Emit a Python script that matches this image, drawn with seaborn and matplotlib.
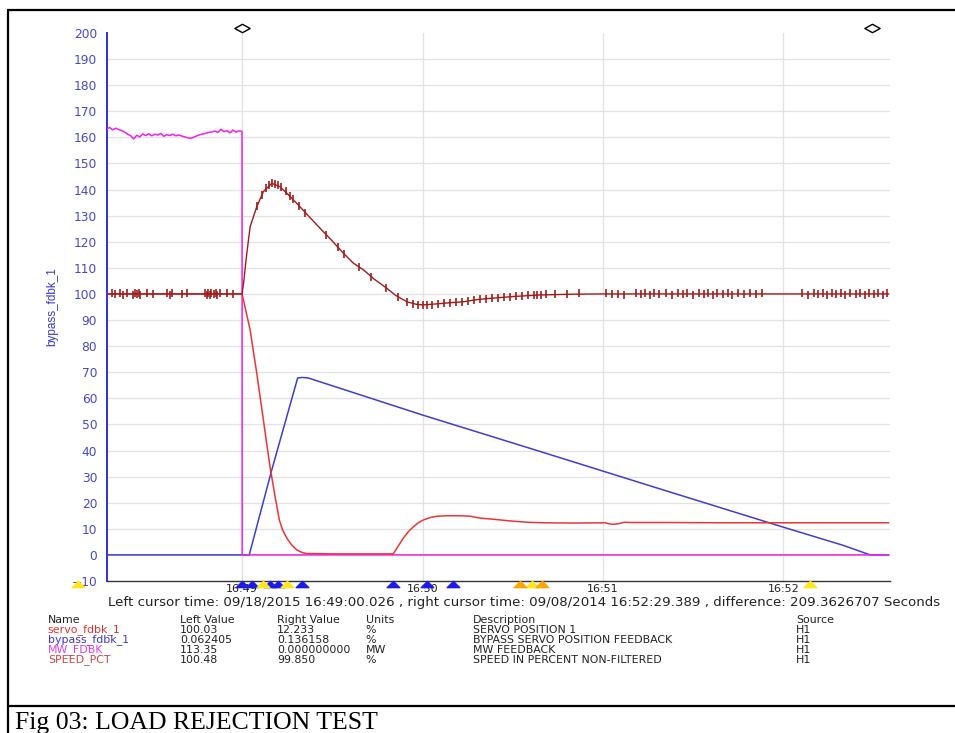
import seaborn as sns
import matplotlib.pyplot as plt
import matplotlib.ticker as mticker
import matplotlib.transforms as mtransforms
from matplotlib.lines import Line2D
from matplotlib.path import Path
import pandas as pd
import numpy as np

# time in seconds relative to 16:49:00
# MW_FDBK (magenta)
mwTime = [-45, -44, -43, -42, -41, -40, -39, -38, -37, -36, -35, -34, -33, -32, -31, -30,
          -29, -28, -27, -26, -25, -24, -23, -22, -21, -20, -19, -18, -17, -16, -15, -14,
          -13, -12, -11, -10, -9, -8, -7, -6, -5, -4, -3, -2, -1, 0, 0.05, 215]
mwValue = [163.2, 163.8, 162.9, 163.5, 163.0, 162.6, 162.0, 161.2, 160.6, 159.4, 160.8, 160.2,
           161.3, 160.7, 161.4, 160.6, 161.2, 160.9, 161.5, 160.4, 161.0, 160.7, 161.2, 160.6,
           160.9, 160.5, 160.2, 159.8, 159.6, 160.1, 160.6, 161.0, 161.3, 161.6, 161.9, 162.1,
           162.4, 161.9, 163.1, 162.2, 162.6, 161.7, 162.8, 162.0, 162.5, 162.3, 0.0, 0.0]

# bypass_fdbk_1 (blue)
bypassTime = [-45, 2.4, 9.9, 18.5, 20, 22, 60, 100, 140, 180, 200, 208.8, 215]
bypassValue = [0, 0, 32.6, 67.8, 68.0, 67.8, 53.6, 39.3, 24.9, 10.6, 3.6, 0, 0]

# servo_fdbk_1 (red)
servoTime = [-45, 0, 1, 2.7, 4.9, 7.1, 9.3, 11, 12.4, 13.5, 14.9, 16.5, 18.2, 20, 21.5, 30, 40,
             50.3, 52, 53.6, 55.3, 57, 58.6, 60.3, 62.5, 64.8, 68, 72.5, 76, 79.1, 84, 90.2,
             95, 100.1, 110, 120.7, 123, 125, 127, 129.5, 140, 160, 180, 200, 215]
servoValue = [100, 100, 95, 86.2, 69.6, 51.7, 33.8, 22.3, 13.4, 9.5, 6.4, 3.8, 1.9, 0.9, 0.5,
              0.4, 0.4, 0.4, 3.5, 6.4, 8.9, 10.8, 12.3, 13.4, 14.3, 14.8, 15.0, 15.0, 14.8,
              14.1, 13.6, 12.9, 12.5, 12.3, 12.2, 12.3, 11.7, 11.9, 12.5, 12.4, 12.4, 12.3,
              12.3, 12.3, 12.3]

# SPEED_PCT trend (dark red)
speedTime = [-45, 0, 0.5, 1.6, 2.7, 4.9, 7.1, 9.9, 12.6, 15, 18.2, 22, 25.9, 30, 33.7, 37,
             40.4, 44, 48.1, 51, 54.8, 58, 60.3, 64.8, 70, 73.6, 78, 82.4, 90, 99, 110, 120, 215]
speedValue = [100, 100, 104, 115.7, 125.8, 133.4, 139.2, 142.4, 141.1, 138.5, 134.7, 130,
              125.2, 120.3, 115.6, 111.8, 109.2, 105.6, 102.2, 99.5, 97.0, 96.0, 95.8, 96.2,
              96.7, 97.0, 97.8, 98.3, 99.0, 99.6, 99.9, 100, 100]

# SPEED_PCT raw samples shown as ticks
speedTickTime = [-43.2, -42.2, -40.6, -39.5, -38.2, -36.2, -35.5, -34.9, -34.2, -33.9, -31.6,
                 -29.6, -24.9, -23.9, -23.3, -19.9, -18.3, -12.3, -11.6, -11.3, -10.6, -10.3,
                 -9.3, -8.8, -8.3, -7.3, -5, -3,
                 5, 6.5, 8, 9, 10, 11, 12, 13, 14.5, 16, 17, 19, 21, 28, 32, 34, 39, 43, 48,
                 52, 55, 57, 58.5, 60, 61.5, 63, 65, 67, 69, 71, 73, 75, 77, 79, 81, 83, 85,
                 87, 89, 91, 93, 95, 97, 98, 99.5, 101, 104, 108, 112,
                 121, 123, 125, 127, 131, 132.5, 134, 135.5, 137, 138.5, 141, 143, 145, 146.5,
                 148, 150, 152, 153.5, 155, 156.5, 158, 160, 161.5, 163, 165, 167, 169, 171,
                 173, 186, 188, 190, 191.5, 193, 194.5, 196, 197.5, 199, 200.5, 202, 204,
                 205.5, 207, 208.5, 210, 211.5, 213, 214.5]
speedTickValue = [100.3, 99.8, 100.2, 99.7, 100.4, 99.6, 100.3, 99.8, 100.5, 99.7, 100.2,
                  99.9, 100.3, 99.7, 100.2, 99.9, 100.2, 100.4, 99.6, 100.3, 99.7, 100.5,
                  99.8, 100.3, 99.7, 100.4, 100.2, 99.9,
                  133.6, 137.8, 140.5, 141.7, 142.6, 142.2, 141.6, 140.8, 139.3, 137.6, 136.2,
                  133.6, 131.1, 122.7, 117.9, 115.2, 110.3, 106.6, 102.3, 98.9, 96.9, 96.2,
                  95.8, 95.7, 95.6, 95.9, 96.2, 96.4, 96.5, 96.8, 97.0, 97.3, 97.6, 97.9, 98.1,
                  98.4, 98.6, 98.8, 98.9, 99.2, 99.3, 99.5, 99.5, 99.7, 99.6, 100.0, 99.8,
                  99.9, 100.2,
                  100.2, 99.8, 100.1, 99.7, 100.3, 99.8, 100.4, 99.7, 100.2, 99.9, 100.3,
                  99.6, 100.2, 99.8, 100.4, 99.7, 100.3, 99.9, 100.2, 99.7, 100.4, 99.8,
                  100.3, 99.7, 100.2, 99.9, 100.3, 99.8, 100.2, 100.3, 99.7, 100.4, 99.8,
                  100.2, 99.6, 100.3, 99.8, 100.4, 99.7, 100.2, 99.9, 100.3, 99.7, 100.4,
                  99.8, 100.2, 99.7, 100.3]

# event markers along the time axis
blueEvents = [0, 3.2, 9.3, 12, 20, 50.2, 61.5, 70.1]
yellowEvents = [-54.5, 7, 15, 96.3, 188.8]
orangeEvents = [92.4, 99.6]

cursorTimes = [0.026, 209.389]
minuteTicks = [0, 60, 120, 180]
minuteLabels = ['16:49', '16:50', '16:51', '16:52']

cursorText = ('Left cursor time: 09/18/2015 16:49:00.026 , right cursor time: '
              '09/08/2014 16:52:29.389 , difference: 209.3626707 Seconds')
tableHeader = ['Name', 'Left Value', 'Right Value', 'Units', 'Description', 'Source']
tagNames = ['servo_fdbk_1', 'bypass_fdbk_1', 'MW_FDBK', 'SPEED_PCT']
leftValues = ['100.03', '0.062405', '113.35', '100.48']
rightValues = ['12.233', '0.136158', '0.000000000', '99.850']
units = ['%', '%', 'MW', '%']
descriptions = ['SERVO POSITION 1', 'BYPASS SERVO POSITION FEEDBACK', 'MW FEEDBACK',
                'SPEED IN PERCENT NON-FILTERED']
sources = ['H1', 'H1', 'H1', 'H1']

servoColor = '#ee3535'
bypassColor = '#3d3dd6'
mwColor = '#f020f0'
speedColor = '#a01c1c'
tagColors = ['#e83030', '#3a3ad0', '#e040e0', '#c84545']

sns.set_style('white')
plt.rcParams['font.family'] = ['Liberation Sans', 'DejaVu Sans']

fig = plt.figure(figsize=(9.55, 7.33), dpi=100)
ax = fig.add_axes([0.1120, 0.2074, 0.8199, 0.7476])

sns.lineplot(x=bypassTime, y=bypassValue, ax=ax, color=bypassColor, lw=1.1,
             sort=False, estimator=None, zorder=3)
sns.lineplot(x=mwTime, y=mwValue, ax=ax, color=mwColor, lw=1.1,
             sort=False, estimator=None, zorder=4)
sns.lineplot(x=servoTime, y=servoValue, ax=ax, color=servoColor, lw=1.1,
             sort=False, estimator=None, zorder=5)
sns.lineplot(x=speedTime, y=speedValue, ax=ax, color=speedColor, lw=1.0,
             sort=False, estimator=None, zorder=6)
ax.plot(speedTickTime, speedTickValue, ls='none', marker='|', ms=6, mew=1.2,
        color=speedColor, zorder=6)

ax.set_xlim(-44.9, 215.4)
ax.set_ylim(-10, 200)

ax.set_yticks(np.arange(-10, 201, 10))
ax.yaxis.set_minor_locator(mticker.MultipleLocator(2))
ax.set_xticks(minuteTicks)
ax.set_xticklabels(minuteLabels)
ax.xaxis.set_minor_locator(mticker.MultipleLocator(10))

ax.grid(True, which='major', color='#e2e2e2', lw=0.9, zorder=0)
ax.get_ygridlines()[-1].set_visible(False)
ax.get_ygridlines()[0].set_visible(False)
ax.set_axisbelow(True)

for side in ['top', 'right']:
    ax.spines[side].set_visible(False)
ax.spines['left'].set_color('#2f2fe0')
ax.spines['left'].set_linewidth(1.4)
ax.spines['bottom'].set_color('#333333')
ax.spines['bottom'].set_linewidth(1.0)

ax.tick_params(axis='y', which='major', direction='out', length=5, width=1.2,
               color='#2f2fe0', labelcolor='#4848c8', labelsize=8.8, pad=2)
ax.tick_params(axis='y', which='minor', direction='out', length=2.5, width=1,
               color='#2f2fe0')
ax.tick_params(axis='x', which='both', direction='out', length=3, width=1,
               color='#333333', labelcolor='#222222', labelsize=8, pad=-1)
for lbl in ax.get_xticklabels() + ax.get_yticklabels():
    lbl.set_family(['DejaVu Sans'])

ax.set_ylabel('bypass_fdbk_1', color='#3838c8', fontsize=8.5)
ax.yaxis.set_label_coords(-0.062, 0.5)
ax.set_xlabel('')

# event triangles under the time axis
trans = mtransforms.blended_transform_factory(ax.transData, ax.transAxes)
triangle = Path([(-1, -0.5), (0, 0.5), (1, -0.5), (-1, -0.5)],
                [Path.MOVETO, Path.LINETO, Path.LINETO, Path.CLOSEPOLY])
for events, col in [(blueEvents, '#1c1ce6'), (yellowEvents, '#ffe81a'), (orangeEvents, '#ffa500')]:
    ax.plot(events, [-0.005] * len(events), ls='none', marker=triangle, ms=9,
            color=col, mec=col, transform=trans, clip_on=False, zorder=7)

# cursor diamonds above the plot
diamond = Path([(-1, 0), (0, 0.55), (1, 0), (0, -0.55), (-1, 0)],
               [Path.MOVETO, Path.LINETO, Path.LINETO, Path.LINETO, Path.CLOSEPOLY])
ax.plot(cursorTimes, [1.009] * len(cursorTimes), ls='none', marker=diamond, ms=11,
        mfc='white', mec='black', mew=1, transform=trans, clip_on=False, zorder=7)

# cursor info line
fig.text(0.5487, 0.1775, cursorText, ha='center', va='center', fontsize=9.6,
         family=['DejaVu Sans'], color='#222222')

# value table
colX = [0.05, 0.1885, 0.29, 0.383, 0.4953, 0.8335]
rowY = [0.1542, 0.1405, 0.1269, 0.1132, 0.0996]
for x, h in zip(colX, tableHeader):
    fig.text(x, rowY[0], h, ha='left', va='center', fontsize=7.9,
             family=['DejaVu Sans'], color='#222222')
for i in range(len(tagNames)):
    cells = [tagNames[i], leftValues[i], rightValues[i], units[i], descriptions[i], sources[i]]
    for j, (x, cell) in enumerate(zip(colX, cells)):
        fig.text(x, rowY[i + 1], cell, ha='left', va='center', fontsize=7.9,
                 family=['DejaVu Sans'],
                 color=tagColors[i] if j == 0 else '#222222')

# outer frame and caption
fig.add_artist(Line2D([0.0084, 0.0084], [0.0, 0.9864], color='black', lw=1.6,
                      transform=fig.transFigure))
fig.add_artist(Line2D([0.0084, 1.0], [0.9864, 0.9864], color='black', lw=1.6,
                      transform=fig.transFigure))
fig.add_artist(Line2D([0.0084, 1.0], [0.0368, 0.0368], color='black', lw=1.6,
                      transform=fig.transFigure))
fig.text(0.016, 0.006, 'Fig 03: LOAD REJECTION TEST', family='Liberation Serif',
         fontsize=18.5, ha='left', va='baseline', color='black')

fig.savefig('out.png', dpi=100)
